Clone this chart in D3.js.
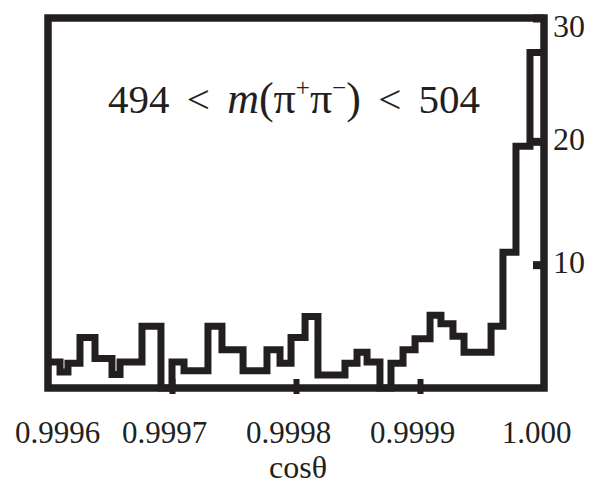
<!DOCTYPE html>
<html>
<head>
<meta charset="utf-8">
<script src="https://cdn.jsdelivr.net/npm/d3@7"></script>
<style>
  html, body { margin: 0; padding: 0; background: #ffffff; }
  svg { display: block; }
  svg text, svg tspan { font-family: "Liberation Serif", "Times New Roman", serif; fill: #231f20; }
</style>
</head>
<body>
<script>
// ---- data ----
const binEdges = [
  0.9996000, 0.9996097, 0.9996161, 0.9996258, 0.9996379, 0.9996516, 0.9996581,
  0.9996758, 0.9996911, 0.9997000, 0.9997097, 0.9997290, 0.9997403, 0.9997573,
  0.9997766, 0.9997871, 0.9997960, 0.9998073, 0.9998177, 0.9998395, 0.9998492,
  0.9998573, 0.9998677, 0.9998766, 0.9998863, 0.9998960, 0.9999081, 0.9999169,
  0.9999266, 0.9999355, 0.9999573, 0.9999669, 0.9999774, 0.9999887, 1.0000000
];
const binCounts = [
  2.1, 1.3, 2.0, 4.1, 2.4, 1.1, 2.1, 5.0, 0,
  2.1, 1.4, 5.0, 3.1, 1.4, 3.1, 2.0, 4.1, 5.8, 1.05, 2.0, 2.9, 2.1, 0,
  2.0, 3.1, 4.0, 5.9, 5.2, 4.2, 2.9, 5.0, 11.0, 19.6, 27.2
];
const xTickValues = [0.9996, 0.9997, 0.9998, 0.9999, 1.0000];
const xTickLabels = ["0.9996", "0.9997", "0.9998", "0.9999", "1.000"];
const yTickValues = [10, 20, 30];
const yTickLabels = ["10", "20", "30"];
const xDomain = [0.9996, 1.0000];
const yDomain = [0, 30];
const annotation = ["494 < ", "m", "(π", "+", "π", "−", ")", " < 504"];
const xTitle = "cosθ";

// ---- drawing ----
const W = 589, H = 485;
const ink = "#231f20";
const serif = '"Liberation Serif", "Times New Roman", serif';
const svg = d3.select("body").append("svg").attr("width", W).attr("height", H)
  .attr("font-family", serif);

const x = d3.scaleLinear().domain(xDomain).range([48, 544]);
const y = d3.scaleLinear().domain(yDomain).range([388, 18]);

// histogram step line
let p = d3.path();
p.moveTo(x(binEdges[0]), y(binCounts[0]));
binCounts.forEach((c, i) => {
  if (i > 0) p.lineTo(x(binEdges[i]), y(c));
  p.lineTo(x(binEdges[i + 1]), y(c));
});
svg.append("path").attr("d", p.toString())
  .attr("fill", "none").attr("stroke", ink).attr("stroke-width", 7)
  .attr("stroke-linejoin", "miter").attr("stroke-linecap", "butt");

// frame
svg.append("rect")
  .attr("x", x(xDomain[0])).attr("y", y(yDomain[1]))
  .attr("width", x(xDomain[1]) - x(xDomain[0]))
  .attr("height", y(yDomain[0]) - y(yDomain[1]))
  .attr("fill", "none").attr("stroke", ink).attr("stroke-width", 7.5);

// bottom axis
const gx = svg.append("g").attr("transform", `translate(0,${y(0)})`)
  .call(d3.axisBottom(x).tickValues(xTickValues)
    .tickFormat((d, i) => xTickLabels[i]).tickSize(6).tickPadding(0));
gx.attr("font-family", serif);
gx.select(".domain").remove();
gx.selectAll(".tick line")
  .attr("y1", -9).attr("y2", 6).attr("stroke", ink).attr("stroke-width", 6)
  .style("display", (d, i) => (i === 0 || i === xTickValues.length - 1) ? "none" : null);
gx.selectAll(".tick text")
  .attr("font-size", 31).attr("fill", ink)
  .attr("y", 54.5).attr("dy", 0)
  .attr("dx", (d, i) => i === 0 ? 9 : -8);

// right axis
const gy = svg.append("g").attr("transform", `translate(${x(xDomain[1])},0)`)
  .call(d3.axisRight(y).tickValues(yTickValues)
    .tickFormat((d, i) => yTickLabels[i]).tickSize(0).tickPadding(0));
gy.attr("font-family", serif);
gy.select(".domain").remove();
gy.selectAll(".tick line")
  .attr("x1", -11).attr("x2", 0).attr("stroke", ink).attr("stroke-width", 8);
gy.selectAll(".tick text")
  .attr("font-size", 32).attr("fill", ink)
  .attr("x", 9).attr("text-anchor", "start")
  .attr("dy", (d, i) => i === yTickValues.length - 1 ? 18 : 8);

// annotation
const ann = svg.append("text").attr("x", 108).attr("y", 113)
  .attr("font-family", serif).attr("font-size", 41).attr("fill", ink)
  .style("word-spacing", "7px");
ann.append("tspan").text(annotation[0]);
ann.append("tspan").attr("font-size", 44).attr("font-style", "italic").text(annotation[1]);
ann.append("tspan").attr("font-size", 44).text(annotation[2]);
ann.append("tspan").attr("font-size", 25).attr("dy", -17).text(annotation[3]);
ann.append("tspan").attr("font-size", 44).attr("dy", 17).text(annotation[4]);
ann.append("tspan").attr("font-size", 25).attr("dy", -17).text(annotation[5]);
ann.append("tspan").attr("font-size", 44).attr("dy", 17).text(annotation[6]);
ann.append("tspan").text(annotation[7]);

// x title
svg.append("text").attr("x", 298).attr("y", 477.8)
  .attr("text-anchor", "middle").attr("font-size", 32).attr("fill", ink)
  .attr("font-family", serif)
  .text(xTitle);
</script>
</body>
</html>
